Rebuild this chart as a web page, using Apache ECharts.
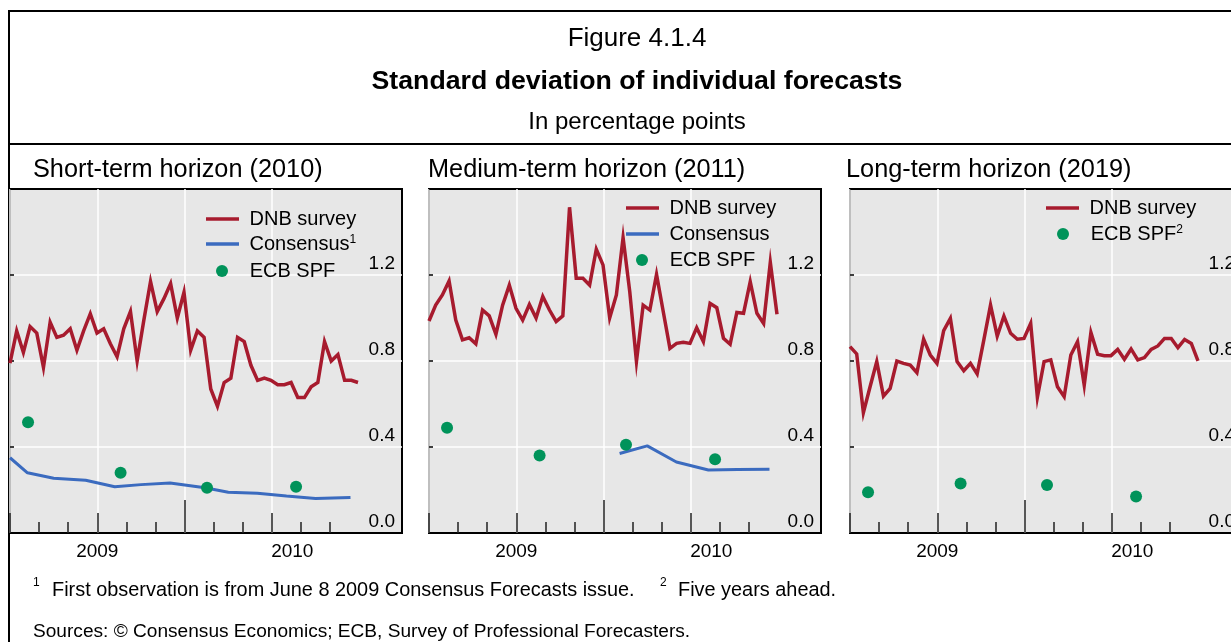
<!DOCTYPE html>
<html>
<head>
<meta charset="utf-8">
<script src="https://cdn.jsdelivr.net/npm/echarts@6/dist/echarts.min.js"></script>
<style>
html, body { margin: 0; padding: 0; background: #fff; }
#main { width: 1231px; height: 642px; }
</style>
</head>
<body>
<div id="main"></div>
<script>
// panel titles
var panelTitles = ['Short-term horizon (2010)', 'Medium-term horizon (2011)', 'Long-term horizon (2019)'];

// DNB survey, weekly observations
var dnbShort = [0.79, 0.94, 0.84, 0.96, 0.93, 0.77, 0.98, 0.91, 0.92, 0.95, 0.85, 0.94, 1.02, 0.93, 0.95, 0.88, 0.82, 0.95, 1.03, 0.80,
    0.99, 1.17, 1.03, 1.09, 1.16, 1.00, 1.12, 0.85, 0.94, 0.91, 0.67, 0.59, 0.70, 0.72, 0.91, 0.89, 0.78, 0.71, 0.72, 0.71,
    0.69, 0.69, 0.70, 0.63, 0.63, 0.68, 0.70, 0.89, 0.80, 0.83, 0.71, 0.71, 0.70];
var dnbMedium = [0.986, 1.06, 1.107, 1.172, 0.99, 0.898, 0.908, 0.88, 1.037, 1.01, 0.924, 1.06, 1.153, 1.045, 0.99, 1.063, 1.00, 1.10, 1.037, 0.983,
    1.01, 1.515, 1.185, 1.185, 1.153, 1.32, 1.247, 1.00, 1.107, 1.374, 1.122, 0.797, 1.06, 1.037, 1.203, 1.03, 0.859, 0.882, 0.887, 0.882,
    0.955, 0.89, 1.068, 1.048, 0.906, 0.878, 1.026, 1.022, 1.169, 1.022, 0.975, 1.259, 1.017];
var dnbLong = [0.867, 0.833, 0.56, 0.68, 0.797, 0.637, 0.673, 0.80, 0.789, 0.781, 0.746, 0.902, 0.828, 0.789, 0.941, 0.998, 0.797, 0.755, 0.789, 0.74,
    0.898, 1.06, 0.916, 1.009, 0.929, 0.901, 0.905, 0.975, 0.631, 0.797, 0.805, 0.68, 0.634, 0.828, 0.89, 0.688, 0.932, 0.831, 0.825, 0.825,
    0.854, 0.808, 0.856, 0.805, 0.816, 0.854, 0.87, 0.905, 0.905, 0.862, 0.90, 0.882, 0.801];

// Consensus, monthly (x in months from July 2009)
var consensusShortX = [0, 0.6, 1.5, 2.6, 3.6, 4.5, 5.5, 6.7, 7.5, 8.5, 9.5, 10.5, 11.7];
var consensusShort = [0.35, 0.28, 0.255, 0.245, 0.215, 0.225, 0.233, 0.21, 0.19, 0.185, 0.172, 0.16, 0.165];
var consensusMediumX = [6.55, 7.5, 8.5, 9.6, 10.6, 11.7];
var consensusMedium = [0.37, 0.405, 0.33, 0.293, 0.295, 0.296];

// ECB SPF, quarterly
var spfX = [0.62, 3.8, 6.77, 9.83];
var spfShort = [0.515, 0.28, 0.21, 0.215];
var spfMedium = [0.49, 0.36, 0.41, 0.343];
var spfLong = [0.19, 0.23, 0.223, 0.17];

// axis ticks (months from July 2009)
var monthTicks = [0, 1, 2, 3, 4, 5, 6, 7, 8, 9, 10, 11];
var quarterTicks = [0, 3, 6, 9];
var yearTicks = [6];
var yearLabels = ['2009', '2010'];
var yearLabelPos = [3, 9.7];

var WEEK = 7 / 30.44;
var XMAX = 13.47;
var RED = '#a71b2e', BLUE = '#3b6bbf', GREEN = '#00935a';
var FONT = 'Liberation Sans, Arial, sans-serif';

function weekly(vals) {
    return vals.map(function (v, i) { return [i * WEEK, v]; });
}
function pairs(xs, ys) {
    return ys.map(function (v, i) { return [xs[i], v]; });
}

var myChart = echarts.init(document.getElementById('main'));

var gridLefts = [10, 429, 850];
var grids = [], xAxes = [], yAxes = [], series = [], legends = [];

gridLefts.forEach(function (left, i) {
    grids.push({
        left: left, top: 189, width: 392, height: 344, outerBoundsMode: 'none',
        show: true, backgroundColor: '#e7e7e7', borderColor: '#000', borderWidth: 2
    });
    // month ticks + year labels
    xAxes.push({
        gridIndex: i, type: 'value', min: 0, max: XMAX, position: 'bottom',
        axisLine: { show: false },
        axisTick: { customValues: monthTicks, inside: true, length: 11, lineStyle: { color: '#222', width: 1.5 } },
        axisLabel: {
            customValues: yearLabelPos, fontSize: 19, color: '#000', fontFamily: FONT, margin: 9,
            formatter: function (v) { return v < 6 ? yearLabels[0] : yearLabels[1]; }
        },
        splitLine: { show: false }
    });
    // quarter ticks + vertical grid
    xAxes.push({
        gridIndex: i, type: 'value', min: 0, max: XMAX, position: 'bottom',
        axisLine: { show: false },
        axisTick: { customValues: quarterTicks, inside: true, length: 20, lineStyle: { color: '#222', width: 1.5 } },
        axisLabel: { show: false },
        splitLine: { show: true, lineStyle: { color: '#fff', width: 1.5 } }
    });
    // year tick
    xAxes.push({
        gridIndex: i, type: 'value', min: 0, max: XMAX, position: 'bottom',
        axisLine: { show: false },
        axisTick: { customValues: yearTicks, inside: true, length: 33, lineStyle: { color: '#222', width: 1.5 } },
        axisLabel: { show: false },
        splitLine: { show: false }
    });
    yAxes.push({
        gridIndex: i, type: 'value', min: 0, max: 1.6, interval: 0.4, position: 'right',
        axisLine: { show: false }, axisTick: { show: false },
        axisLabel: {
            inside: true, margin: 7, verticalAlign: 'bottom', fontSize: 19, color: '#000', fontFamily: FONT,
            showMaxLabel: false, padding: [0, 0, 2, 0],
            formatter: function (v) { return v.toFixed(1); }
        },
        splitLine: { lineStyle: { color: ['rgba(0,0,0,0)', '#fff', '#fff', '#fff', 'rgba(0,0,0,0)'], width: 1.5 } }
    });
    yAxes.push({
        gridIndex: i, type: 'value', min: 0, max: 1.6, interval: 0.4, position: 'left',
        axisLine: { show: false },
        axisTick: { inside: true, length: 4, lineStyle: { color: '#000', width: 1.5 } },
        axisLabel: { show: false }, splitLine: { show: false }
    });
});

var dnbAll = [dnbShort, dnbMedium, dnbLong];
var spfAll = [spfShort, spfMedium, spfLong];
dnbAll.forEach(function (vals, i) {
    series.push({
        type: 'line', name: 'DNB survey', xAxisIndex: 3 * i, yAxisIndex: 2 * i,
        data: weekly(vals), symbol: 'none', z: 4,
        lineStyle: { color: RED, width: 3.5, join: 'miter' }, itemStyle: { color: RED }
    });
});
[[consensusShortX, consensusShort], [consensusMediumX, consensusMedium]].forEach(function (c, i) {
    series.push({
        type: 'line', name: 'Consensus', xAxisIndex: 3 * i, yAxisIndex: 2 * i,
        data: pairs(c[0], c[1]), symbol: 'none', z: 3,
        lineStyle: { color: BLUE, width: 3 }, itemStyle: { color: BLUE }
    });
});
spfAll.forEach(function (vals, i) {
    series.push({
        type: 'scatter', name: 'ECB SPF', xAxisIndex: 3 * i, yAxisIndex: 2 * i,
        data: pairs(spfX, vals), symbolSize: 12, z: 5,
        itemStyle: { color: GREEN, opacity: 1 }
    });
});

var rich = {
    sup: { fontSize: 12, verticalAlign: 'top', fontFamily: FONT, color: '#000' }
};
function legend(name, label, left, centerY, dot) {
    legends.push({
        data: [name], left: left, top: centerY - 11, padding: 0, selectedMode: false,
        icon: dot ? 'circle' : 'rect', itemWidth: dot ? 12 : 33, itemHeight: dot ? 12 : 3.5,
        formatter: function () { return (dot ? '   ' : ' ') + label; },
        textStyle: { fontSize: 20, color: '#000', fontFamily: FONT, rich: rich }
    });
}
legend('DNB survey', 'DNB survey', 206, 220, false);
legend('Consensus', 'Consensus{sup|1}', 206, 245, false);
legend('ECB SPF', 'ECB SPF', 216, 272, true);
legend('DNB survey', 'DNB survey', 626, 209, false);
legend('Consensus', 'Consensus', 626, 235, false);
legend('ECB SPF', 'ECB SPF', 636, 261, true);
legend('DNB survey', 'DNB survey', 1046, 209, false);
legend('ECB SPF', 'ECB SPF{sup|2}', 1057, 235, true);

function label(text, left, y, size, weight, align) {
    return {
        text: text, left: left, top: y, padding: 0,
        textAlign: align || 'left', textVerticalAlign: 'middle',
        textStyle: { fontSize: size, fontWeight: weight || 'normal', color: '#000', fontFamily: FONT }
    };
}
var titles = [
    label('Figure 4.1.4', 637, 39, 26, 'normal', 'center'),
    label('Standard deviation of individual forecasts', 637, 82, 26.7, 'bold', 'center'),
    label('In percentage points', 637, 122, 24, 'normal', 'center'),
    label(panelTitles[0], 33, 170, 25.3),
    label(panelTitles[1], 428, 170, 25.3),
    label(panelTitles[2], 846, 170, 25.3),
    label('1', 33, 583, 12),
    label('First observation is from June 8 2009 Consensus Forecasts issue.', 52, 591, 19.9),
    label('2', 660, 583, 12),
    label('Five years ahead.', 678, 591, 19.9),
    label('Sources: \u00a9 Consensus Economics; ECB, Survey of Professional Forecasters.', 33, 632, 19.1)
];

var option = {
    animation: false,
    textStyle: { fontFamily: FONT },
    title: titles,
    grid: grids,
    xAxis: xAxes,
    yAxis: yAxes,
    legend: legends,
    series: series,
    graphic: [
        { type: 'line', shape: { x1: 9, y1: 11, x2: 1231, y2: 11 }, style: { stroke: '#000', lineWidth: 2 } },
        { type: 'line', shape: { x1: 9, y1: 10, x2: 9, y2: 642 }, style: { stroke: '#000', lineWidth: 2 } },
        { type: 'line', shape: { x1: 9, y1: 144, x2: 1231, y2: 144 }, style: { stroke: '#000', lineWidth: 2 } }
    ]
};

myChart.setOption(option);
</script>
</body>
</html>
